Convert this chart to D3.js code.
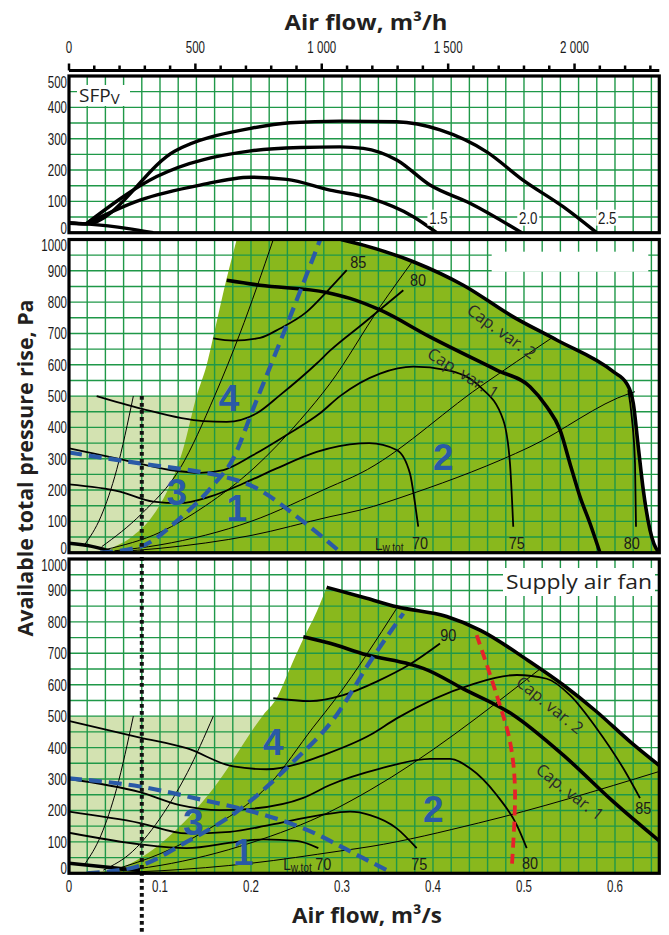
<!DOCTYPE html>
<html>
<head>
<meta charset="utf-8">
<script src="https://cdnjs.cloudflare.com/ajax/libs/d3/7.8.5/d3.min.js"></script>
<style>
  body { margin: 0; background: #fff; }
  svg { display: block; }
</style>
</head>
<body>
<div id="chart"></div>
<script>
// ---------- axis ticks ----------
var flowTicksH = [0,100,200,300,400,500,600,700,800,900,1000,1100,1200,1300,1400,1500,1600,1700,1800,1900,2000,2100,2200,2300];
var flowLabelsH = [[0,"0"],[500,"500"],[1000,"1 000"],[1500,"1 500"],[2000,"2 000"]];
var flowLabelsS = [[0,"0"],[0.1,"0.1"],[0.2,"0.2"],[0.3,"0.3"],[0.4,"0.4"],[0.5,"0.5"],[0.6,"0.6"]];
var sfpTicks = [0,100,200,300,400,500];
var paTicks = [0,100,200,300,400,500,600,700,800,900,1000];

// ---------- SFP panel (top) ----------
var sfp25 = [[0,30],[0.0187,28],[0.1165,261],[0.1997,333],[0.2429,351],[0.2978,356],[0.3601,354],[0.4077,328],[0.459,258],[0.4989,168],[0.543,83],[0.5799,0]];
var sfp20 = [[0.0187,28],[0.0964,179],[0.1997,261],[0.2538,272],[0.2978,274],[0.3234,269],[0.3601,232],[0.3967,152],[0.4407,94],[0.4975,0]];
var sfp15 = [[0.0187,28],[0.078,104],[0.144,152],[0.1997,177],[0.2392,170],[0.2868,136],[0.3308,110],[0.3784,51],[0.4041,0]];
var sfpLow = [[0,32],[0.0187,28],[0.0634,14],[0.0926,0]];
var sfpLabels = [["1.5",0.406,48],["2.0",0.5047,48],["2.5",0.5915,48]];

// ---------- middle panel ----------
var midEdge = [[0.0414,0],[0.0451,9],[0.067,46],[0.0926,120],[0.111,216],[0.1256,333],[0.1403,500],[0.1513,599],[0.1623,737],[0.1733,876],[0.1843,1000]];
var midCap2 = [[0.2989,1000],[0.3234,982],[0.3784,929],[0.4333,854],[0.4882,753],[0.5359,679],[0.5981,578],[0.6129,540],[0.6201,477],[0.6256,338],[0.6311,200],[0.6385,72],[0.6476,3],[0.6487,0]];
var midCap1 = [[0.1733,870],[0.2099,854],[0.2832,831],[0.3088,812],[0.3418,775],[0.3967,689],[0.47,583],[0.5066,530],[0.525,466],[0.5396,392],[0.5505,285],[0.5615,179],[0.5725,94],[0.5835,0]];
var midMin = [[0,30],[0.025,20],[0.045,5]];
var midSys = [
  [[0.017,25],[0.035,115],[0.0524,265],[0.0707,500]],
  [[0.0359,19],[0.08,125],[0.122,269],[0.1604,503],[0.1879,700],[0.2245,1000]],
  [[0.04,10],[0.1,65],[0.15,150],[0.2032,270],[0.2536,422],[0.2868,540],[0.3418,785],[0.3784,934]],
  [[0.05,6],[0.1,25],[0.2,100],[0.2868,210],[0.3198,253],[0.4516,530],[0.5322,689]],
  [[0.05,3],[0.1,14],[0.2,55],[0.2868,115],[0.3198,136],[0.3784,190],[0.5066,338],[0.6165,509],[0.622,514]]
];
var midFans = [
  [[0.0304,500],[0.078,461],[0.1476,420],[0.1733,418],[0.2063,445],[0.2319,503],[0.2722,604],[0.2868,645],[0.3234,732],[0.3674,838]],
  [[0.1586,684],[0.1805,677],[0.2099,686],[0.2319,716],[0.2612,769],[0.2832,833],[0.3052,902]],
  [[0,333],[0.056,299],[0.111,264],[0.144,255],[0.1696,264],[0.2025,312],[0.2392,376],[0.2758,445],[0.2978,500],[0.3418,572],[0.3784,594],[0.4151,583],[0.4516,530],[0.4773,423],[0.4846,285],[0.4882,83]],
  [[0,218],[0.056,195],[0.0926,163],[0.122,158],[0.1549,179],[0.1915,221],[0.2282,269],[0.2722,322],[0.3198,349],[0.33,350],[0.3601,328],[0.3747,253],[0.3802,158],[0.3838,83]],
  [[0.6146,519],[0.6184,434],[0.622,285],[0.6231,83]]
];
var midBlueSteep = [[0.0341,0],[0.078,19],[0.122,110],[0.1586,216],[0.1805,301],[0.2025,460],[0.2538,833],[0.2758,998]];
var midBlueFall = [[0,320],[0.078,285],[0.144,258],[0.1623,248],[0.2025,211],[0.2575,99],[0.2978,3]];
var midZones = [["4",0.1758,494],["3",0.1184,195],["1",0.1843,143],["2",0.4113,306]];
var midCurveLabels = [["85",0.3179,929],["80",0.3835,871],["70",0.3857,31],["75",0.492,31],["80",0.6184,31]];
var midLw = [0.3363,9];
var midCapLabels = [["Cap. var. 2",0.4755,706,36],["Cap. var. 1",0.4333,573,32]];

// ---------- bottom panel (supply air fan) ----------
var supEdge = [[0.0198,0],[0.0634,26],[0.1074,111],[0.1586,270],[0.2135,504],[0.2282,557],[0.2429,652],[0.2575,746],[0.2722,832],[0.2832,910]];
var supCap2 = [[0.2832,910],[0.3271,875],[0.3601,848],[0.4151,817],[0.4516,774],[0.5066,673],[0.5432,599],[0.5799,514],[0.6165,419],[0.6487,343]];
var supCap1 = [[0.2575,753],[0.2868,732],[0.3271,695],[0.3747,665],[0.3893,652],[0.4333,587],[0.4882,504],[0.5432,376],[0.5981,228],[0.6487,103]];
var supMin = [[0,32],[0.078,9]];
var supSys = [
  [[0.0176,30],[0.035,120],[0.0524,270],[0.0707,500]],
  [[0.0377,10],[0.07,70],[0.1036,190],[0.13,320],[0.1586,500]],
  [[0.05,12],[0.1,62],[0.15,135],[0.2209,285],[0.2685,465],[0.2942,560],[0.3601,843]],
  [[0.05,6],[0.1,25],[0.2,97],[0.2868,196],[0.3308,265],[0.5176,650]],
  [[0.05,2],[0.1,8],[0.2,32],[0.2978,71],[0.3308,85],[0.45,160],[0.6476,323]]
];
var supFans = [
  [[0,485],[0.078,432],[0.1293,398],[0.1805,340],[0.2173,331],[0.2538,350],[0.2795,376],[0.3308,440],[0.3601,493],[0.4407,599],[0.492,631],[0.525,619],[0.5505,567],[0.5799,461],[0.6091,334],[0.6275,239]],
  [[0.2245,557],[0.2648,548],[0.3014,567],[0.3381,610],[0.3747,665],[0.4077,731]],
  [[0,300],[0.078,258],[0.122,217],[0.1659,201],[0.2025,206],[0.2575,240],[0.2868,281],[0.3418,333],[0.3967,364],[0.4187,364],[0.4407,334],[0.47,249],[0.492,154],[0.503,80]],
  [[0,196],[0.078,160],[0.1293,127],[0.1769,132],[0.2209,154],[0.2758,185],[0.3088,196],[0.3308,185],[0.3601,143],[0.3821,80]],
  [[0,129],[0.078,92],[0.1293,80],[0.1843,100],[0.2135,108],[0.2502,103],[0.274,80]]
];
var supRed = [[0.448,758],[0.47,567],[0.4846,419],[0.4901,270],[0.4865,16]];
var supBlueSteep = [[0.0195,0],[0.0744,21],[0.1293,100],[0.1843,196],[0.2429,345],[0.2942,504],[0.3308,673],[0.3674,827]];
var supBlueFall = [[0,302],[0.078,276],[0.1476,233],[0.1953,201],[0.2575,143],[0.3234,48],[0.3491,10]];
var supZones = [["4",0.2245,419],["3",0.1366,164],["1",0.1915,69],["2",0.4003,207]];
var supCurveLabels = [["90",0.4168,757],["85",0.6311,207],["80",0.5066,32],["75",0.385,29],["70",0.2795,28]];
var supLw = [0.2355,10];
var supCapLabels = [["Cap. var. 2",0.5286,535,39],["Cap. var. 1",0.5505,259,38]];

var dottedFlow = 0.08;

// ---------- layout ----------
var W = 669, H = 935;
var X0 = 69, X1 = 659.3, qMax = 0.6487;
var GRID = "#1f9848", FILL = "#89b81d", LIGHT = "#d3e2b1", BLUE = "#2a5aa7", RED = "#e5222a";
var NARROW = "'Liberation Sans', Arial, sans-serif";
var SANS = "'Open Sans', 'Noto Sans', sans-serif";

var x = d3.scaleLinear().domain([0, qMax]).range([X0, X1]);
var xh = d3.scaleLinear().domain([0, qMax * 3600]).range([X0, X1]);

var panels = [
  {id:"sfp", top:76, bottom:232.7, max:500, ticks:sfpTicks},
  {id:"mid", top:239.5, bottom:552.7, max:1000, ticks:paTicks},
  {id:"sup", top:559, bottom:873.3, max:1000, ticks:paTicks}
];
panels.forEach(function(p){
  p.y = d3.scaleLinear().domain([0, p.max]).range([p.bottom, p.top]);
});

var svg = d3.select("#chart").append("svg")
  .attr("width", W).attr("height", H)
  .attr("viewBox", "0 0 " + W + " " + H);

var defs = svg.append("defs");
panels.forEach(function(p){
  defs.append("clipPath").attr("id", "clip-" + p.id)
    .append("rect").attr("x", X0).attr("y", p.top)
    .attr("width", X1 - X0).attr("height", p.bottom - p.top);
});

function lineFor(p, curve){
  return d3.line().x(function(d){return x(d[0]);}).y(function(d){return p.y(d[1]);})
    .curve(curve || d3.curveMonotoneX);
}

function narrowText(g, px, py, str, o){
  o = o || {};
  return g.append("text")
    .attr("transform", "translate(" + px + "," + py + ") scale(" + (o.sx || 0.7) + ",1)")
    .attr("text-anchor", o.anchor || "middle")
    .attr("dy", o.dy || "0.35em")
    .attr("font-family", NARROW)
    .attr("font-size", o.size || 16)
    .attr("fill", o.fill || "#1a1a1a")
    .text(str);
}

function drawCurve(g, p, pts, w, o){
  o = o || {};
  g.append("path")
    .attr("d", lineFor(p, o.curve)(pts))
    .attr("fill", "none")
    .attr("stroke", o.color || "#000")
    .attr("stroke-width", w)
    .attr("stroke-dasharray", o.dash || null)
    .attr("stroke-linecap", o.cap || "butt")
    .attr("stroke-linejoin", "round");
}

// ---------- panel bodies ----------
panels.forEach(function(p){
  var g = svg.append("g").attr("clip-path", "url(#clip-" + p.id + ")");
  p.g = g;

  // fills
  if (p.id !== "sfp") {
    g.append("rect")
      .attr("x", x(0)).attr("y", p.y(500))
      .attr("width", x(0.22) - x(0)).attr("height", p.y(0) - p.y(500))
      .attr("fill", LIGHT);
    var edge = p.id === "mid" ? midEdge : supEdge;
    var cap = p.id === "mid" ? midCap2 : supCap2;
    var ln = lineFor(p);
    var d = ln(edge) + ln(cap).replace(/^M/, "L");
    var last = cap[cap.length - 1];
    d += "L" + x(last[0]) + "," + p.y(0) + "Z";
    g.append("path").attr("d", d).attr("fill", FILL);
  }

  // grid
  var vx = d3.range(1, 33).map(function(i){ return i * 0.02; });
  g.selectAll(".vg").data(vx).enter().append("line")
    .attr("x1", function(d){return x(d);}).attr("x2", function(d){return x(d);})
    .attr("y1", p.top).attr("y2", p.bottom)
    .attr("stroke", GRID).attr("stroke-width", 1.4);
  g.selectAll(".hg").data(d3.range(50, p.max, 50)).enter().append("line")
    .attr("x1", X0).attr("x2", X1)
    .attr("y1", function(d){return p.y(d);}).attr("y2", function(d){return p.y(d);})
    .attr("stroke", GRID).attr("stroke-width", 1.4);
});

// ---------- SFP panel marks ----------
(function(){
  var p = panels[0], g = p.g;
  g.append("rect").attr("x", 77).attr("y", 85).attr("width", 53).attr("height", 21).attr("fill", "#fff");
  [sfp25, sfp20, sfp15, sfpLow].forEach(function(c){ drawCurve(g, p, c, 3.4); });
  sfpLabels.forEach(function(l){
    g.append("rect").attr("x", x(l[1]) - 11).attr("y", p.y(l[2]) - 8)
      .attr("width", 22).attr("height", 16).attr("fill", "#fff");
    narrowText(g, x(l[1]), p.y(l[2]), l[0], {sx:0.78, size:17});
  });
  var t = g.append("text").attr("x", 79).attr("y", 101.5)
    .attr("font-family", SANS).attr("font-size", 19).attr("fill", "#222");
  t.append("tspan").text("SFP");
  t.append("tspan").attr("font-size", 15).attr("dy", 2).text("V");
})();

// ---------- pressure panels ----------
function drawPressurePanel(p, s){
  var g = p.g;
  s.sys.forEach(function(c){ drawCurve(g, p, c, 1); });
  s.fans.forEach(function(c){ drawCurve(g, p, c, 1.8); });
  drawCurve(g, p, s.cap1, 3.6);
  drawCurve(g, p, s.cap2, 3.6);
  drawCurve(g, p, s.min, 3.4);
  if (s.red) drawCurve(g, p, s.red, 3.8, {color:RED, dash:"10,6", curve:d3.curveCatmullRom});
  drawCurve(g, p, s.blueSteep, 4.2, {color:BLUE, dash:"13,7"});
  drawCurve(g, p, s.blueFall, 4.2, {color:BLUE, dash:"13,7"});

  s.zones.forEach(function(z){
    g.append("text").attr("x", x(z[1])).attr("y", p.y(z[2]))
      .attr("dy", "0.36em").attr("text-anchor", "middle")
      .attr("font-family", NARROW).attr("font-weight", "bold")
      .attr("font-size", 37).attr("fill", BLUE).text(z[0]);
  });
  s.labels.forEach(function(l){
    narrowText(g, x(l[1]), p.y(l[2]), l[0], {sx:0.85, size:17});
  });
  var lw = g.append("text")
    .attr("transform", "translate(" + x(s.lw[0]) + "," + p.y(s.lw[1]) + ") scale(0.85,1)")
    .attr("font-family", NARROW).attr("font-size", 16).attr("fill", "#1a1a1a");
  lw.append("tspan").text("L");
  lw.append("tspan").attr("font-size", 12).attr("dy", 2).text("w.tot");
  s.caps.forEach(function(c){
    g.append("text")
      .attr("transform", "translate(" + x(c[1]) + "," + p.y(c[2]) + ") rotate(" + c[3] + ")")
      .attr("text-anchor", "middle").attr("dy", "0.35em")
      .attr("font-family", SANS).attr("font-size", 16.5).attr("fill", "#2a2a2a")
      .text(c[0]);
  });
}

drawPressurePanel(panels[1], {
  sys: midSys, fans: midFans, cap1: midCap1, cap2: midCap2, min: midMin,
  blueSteep: midBlueSteep, blueFall: midBlueFall, zones: midZones,
  labels: midCurveLabels, lw: midLw, caps: midCapLabels
});
panels[1].g.append("rect").attr("x", 491.7).attr("y", 251.7)
  .attr("width", 156.6).attr("height", 20).attr("fill", "#fff");

drawPressurePanel(panels[2], {
  sys: supSys, fans: supFans, cap1: supCap1, cap2: supCap2, min: supMin, red: supRed,
  blueSteep: supBlueSteep, blueFall: supBlueFall, zones: supZones,
  labels: supCurveLabels, lw: supLw, caps: supCapLabels
});
panels[2].g.append("rect").attr("x", 503).attr("y", 568).attr("width", 152).attr("height", 28).attr("fill", "#fff");
panels[2].g.append("text").attr("x", 506).attr("y", 588.5)
  .attr("font-family", SANS).attr("font-size", 20).attr("fill", "#222")
  .attr("textLength", 146).attr("lengthAdjust", "spacingAndGlyphs")
  .text("Supply air fan");

// ---------- dotted design flow line ----------
svg.append("line")
  .attr("x1", x(dottedFlow)).attr("x2", x(dottedFlow))
  .attr("y1", panels[1].y(500)).attr("y2", 932)
  .attr("stroke", "#111").attr("stroke-width", 4).attr("stroke-dasharray", "3.6,3.4");

// ---------- frames and y tick labels ----------
panels.forEach(function(p){
  svg.append("rect").attr("x", X0).attr("y", p.top)
    .attr("width", X1 - X0).attr("height", p.bottom - p.top)
    .attr("fill", "none").attr("stroke", "#000").attr("stroke-width", 3.2);
  p.ticks.forEach(function(v){
    var yy = Math.max(p.top + 6, Math.min(p.bottom - 5, p.y(v)));
    narrowText(svg, 67, yy, String(v), {anchor:"end", sx:0.68, size:17});
  });
});

// ---------- top axis (m3/h) ----------
var topY = 70.5;
svg.append("line").attr("x1", X0).attr("x2", X1).attr("y1", topY).attr("y2", topY)
  .attr("stroke", "#000").attr("stroke-width", 3);
svg.selectAll(".tt").data(flowTicksH).enter().append("line")
  .attr("x1", function(d){return xh(d);}).attr("x2", function(d){return xh(d);})
  .attr("y1", topY).attr("y2", function(d){return d % 500 === 0 ? topY - 7 : topY - 5;})
  .attr("stroke", "#000").attr("stroke-width", 2.5);
flowLabelsH.forEach(function(l){
  narrowText(svg, xh(l[0]), 47, l[1], {sx:0.68, size:17});
});

// ---------- bottom axis labels (m3/s) ----------
flowLabelsS.forEach(function(l){
  narrowText(svg, x(l[0]), 886, l[1], {sx:0.68, size:17});
});

// ---------- titles ----------
svg.append("text").attr("x", 366).attr("y", 30).attr("text-anchor", "middle")
  .attr("font-family", SANS).attr("font-weight", "bold").attr("font-size", 22).attr("fill", "#231f20")
  .attr("textLength", 163).attr("lengthAdjust", "spacingAndGlyphs")
  .text("Air flow, m³/h");
svg.append("text").attr("x", 367).attr("y", 923).attr("text-anchor", "middle")
  .attr("font-family", SANS).attr("font-weight", "bold").attr("font-size", 22).attr("fill", "#231f20")
  .attr("textLength", 150).attr("lengthAdjust", "spacingAndGlyphs")
  .text("Air flow, m³/s");
svg.append("text").attr("transform", "translate(33,468) rotate(-90)").attr("text-anchor", "middle")
  .attr("font-family", SANS).attr("font-weight", "bold").attr("font-size", 22).attr("fill", "#231f20")
  .attr("textLength", 337).attr("lengthAdjust", "spacingAndGlyphs")
  .text("Available total pressure rise, Pa");
</script>
</body>
</html>
